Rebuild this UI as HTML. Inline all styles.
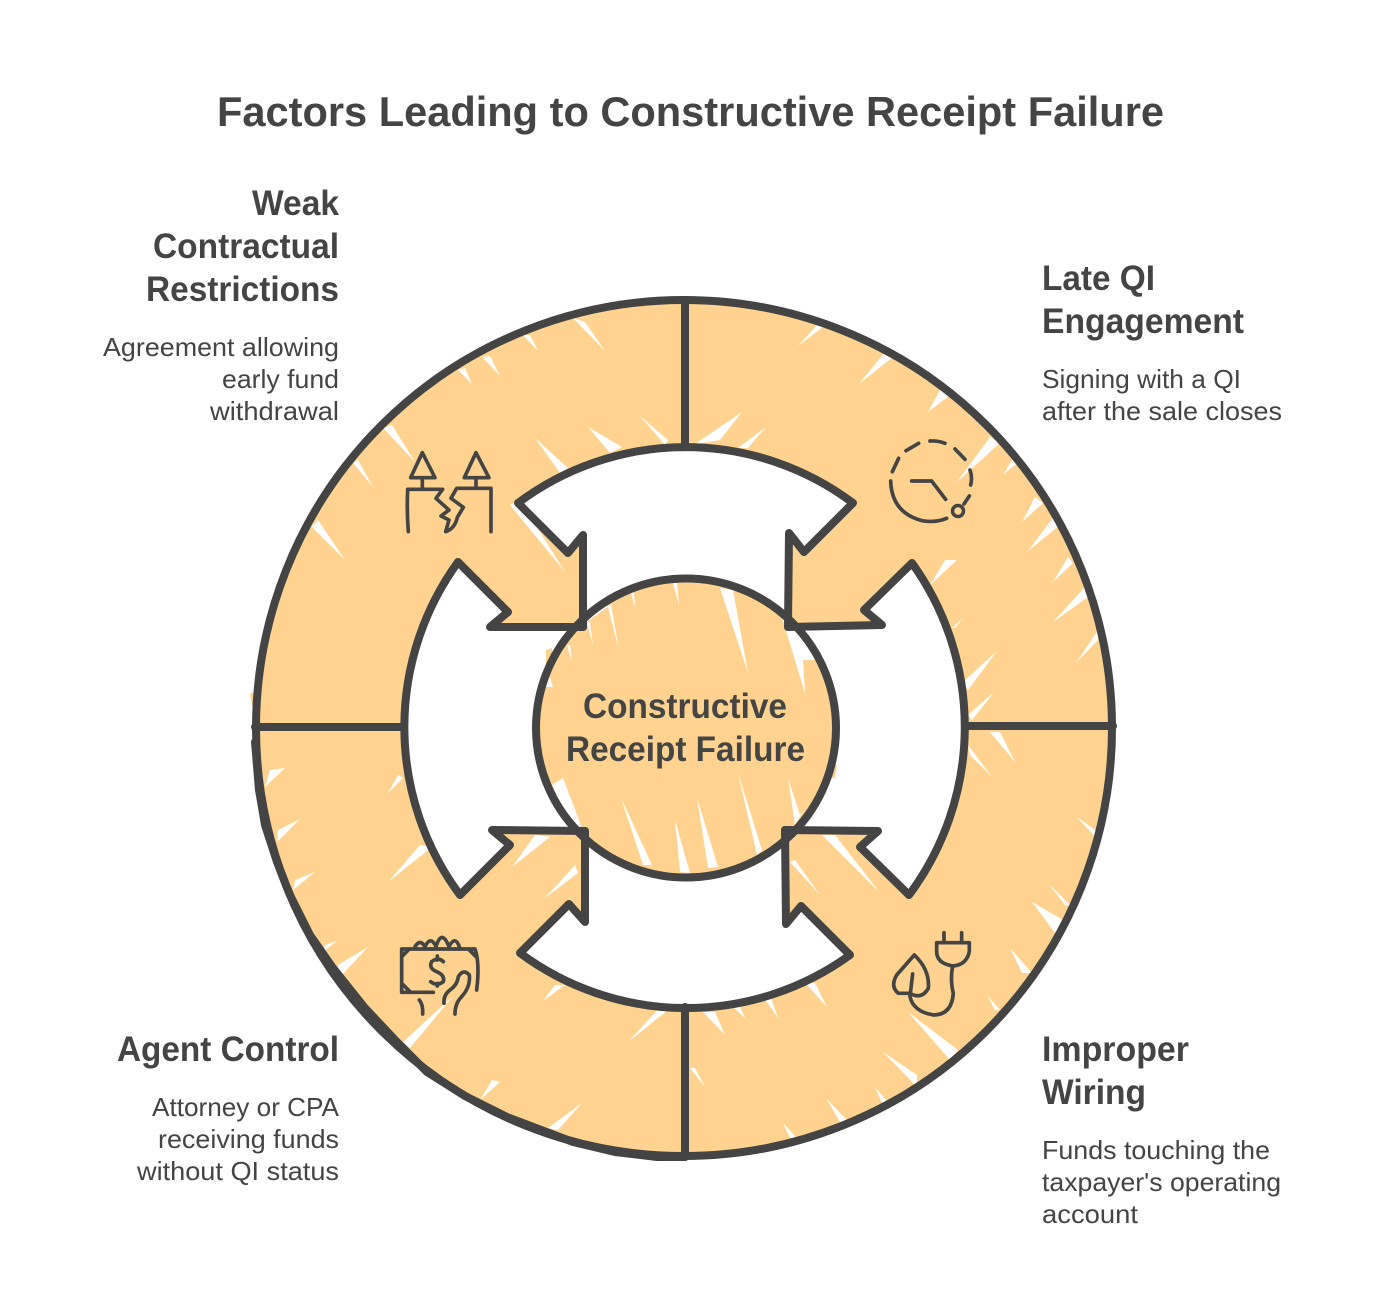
<!DOCTYPE html>
<html><head><meta charset="utf-8"><style>
html,body{margin:0;padding:0;background:#fff}
svg{display:block}
text{font-family:"Liberation Sans",sans-serif;fill:#444}
.t{font-size:42px;font-weight:700}
.h{font-size:35px;font-weight:700}
.b{font-size:26px}
.l{fill:none;stroke:#444;stroke-width:8;stroke-linejoin:round;stroke-linecap:round}
.i{fill:none;stroke:#444;stroke-width:9;stroke-linejoin:round;stroke-linecap:round}
</style></head><body>
<svg width="1381" height="1316" viewBox="0 0 1381 1316" xmlns="http://www.w3.org/2000/svg">
<rect width="1381" height="1316" fill="#fff"/>
<circle cx="684" cy="728" r="428" fill="#FFD28F"/>
<path fill="#FFD28F" d="M250 694L259 690L259 706L252 706ZM1108 700L1116 704L1112 716Z"/>
<path fill="#fff" d="M573 318L605 351L585 322ZM523 335L538 351L530 335ZM482 357L500 376L490 356ZM458 370L472 384L465 368ZM383 428L415 462L392 425ZM353 463L373 487L358 460ZM312 527L345 560L318 520ZM535 438L560 473L568 468ZM588 427L610 453L622 447ZM640 416L665 445L668 440ZM510 505L565 572L520 500Z
M823 327L798 346L817 325ZM893 357L859 384L885 352ZM949 396L928 412L940 390ZM1000 443L957 482L990 437ZM1017 463L1003 475L1012 460ZM1043 503L1022 522L1035 497ZM1060 525L1028 551L1055 515ZM1073 563L1053 582L1068 557ZM1088 597L1053 622L1085 587ZM1098 640L1076 663L1098 630ZM742 412L695 444L720 440ZM766 427L738 448L748 448ZM957 560L930 585L945 560ZM997 651L963 682L968 690ZM995 691L968 715L972 720ZM963 618L952 628L955 628Z
M285 768L265 787L270 770ZM300 819L277 842L278 830ZM315 872L293 890L295 880ZM368 947L340 977L338 965ZM337 941L323 952L325 945ZM453 996L403 1042L410 1048ZM432 847L388 882L420 845ZM403 778L388 793L398 775ZM565 985L543 1001L555 985ZM550 837L512 867L535 835ZM578 873L545 898L575 865ZM668 1010L628 1042L660 1007ZM500 1082L480 1100L492 1080ZM582 1103L548 1128L558 1130Z
M990 732L1015 762L1000 732ZM968 745L992 777L970 755ZM1077 817L1100 842L1098 832ZM1048 883L1072 907L1065 905ZM1032 902L1055 933L1063 920ZM1010 948L1032 973L1022 973ZM987 995L1000 1010L995 1010ZM908 1012L950 1060L958 1050ZM883 1052L917 1087L917 1075ZM875 1087L888 1102L882 1103ZM826 1098L847 1120L840 1122ZM783 1123L797 1138L790 1138ZM822 835L880 893L835 835ZM790 862L820 895L795 860ZM805 983L827 1007L815 983ZM762 995L778 1018L770 995ZM733 1007L745 1018L740 1007ZM703 1012L725 1035L715 1012ZM690 1068L705 1087L695 1068Z"/>
<path fill="#fff" d="M518 503A279 279 0 0 1 853 503L804 552L789 533L788 627L583 627L583 535L568 553Z"/>
<path fill="#fff" d="M583 627L490 627L508 612L458 562A281 281 0 0 0 460 895L510 845L492 830L585 831Z"/>
<path fill="#fff" d="M585 831L585 922L569 904L520 953A279 279 0 0 0 850 955L801 906L786 924L785 830Z"/>
<path fill="#fff" d="M788 627L882 625L864 610L912 563A281 281 0 0 1 909 895L860 847L878 831L785 830Z"/>
<circle cx="686" cy="728" r="148" fill="#FFD28F"/>
<path fill="#FFD28F" d="M546 650L552 648L552 665L546 668ZM832 765L837 765L835 778L830 778Z"/>
<path fill="#fff" d="M720 588L748 673L733 590ZM782 618L805 693L803 660L825 660L810 630ZM673 583L679 605L677 583ZM631 593L635 608L634 592ZM608 607L619 650L611 605L588 612L582 625ZM587 622L593 645L590 622ZM567 645L572 662L570 645ZM545 687L553 687L548 672ZM738 773L757 855L762 850ZM788 778L800 815L805 808L816 782L806 806L795 825ZM697 798L718 867L708 868ZM675 820L690 873L680 872ZM621 798L643 865L652 865ZM563 778L582 828L598 832L570 825L552 785Z"/>
<ellipse cx="686" cy="728" rx="150" ry="149.5" class="l"/>
<circle cx="684" cy="728" r="428" class="l"/>
<path class="l" d="M255 742L259 790L265 825L277 862L290 895L310 935L333 968L365 1008L397 1042L427 1072L465 1096L507 1117L573 1142L615 1152L657 1157L685 1157"/>
<path class="l" d="M685 300V447M255 727H404M966 726H1113M685 1007V1157"/>
<path class="l" d="M583 627V535L568 553L518 503A279 279 0 0 1 853 503L804 552L789 533L788 627"/>
<path class="l" d="M583 627H490L508 612L458 562A281 281 0 0 0 460 895L510 845L492 830L585 831"/>
<path class="l" d="M585 831V922L569 904L520 953A279 279 0 0 0 850 955L801 906L786 924L785 830"/>
<path class="l" d="M788 627L882 625L864 610L912 563A281 281 0 0 1 909 895L860 847L878 831L785 830"/>
<g transform="translate(380 430) scale(.3333)"><path class="i" style="stroke-width:11" d="M127 68L92 143H165ZM288 68L253 143H327ZM127 143V178M288 143V175M85 305Q80 240 83 178H188L168 205L207 240L183 258L207 270L197 305Q225 295 232 262L250 232L213 205L230 175H333V305"/></g>
<g transform="translate(780 420)"><path class="i" d="M378 92L416 70M450 63Q475 62 495 70M525 87L555 118M570 150Q578 172 572 195M568 228L552 252M500 295Q470 308 430 303Q335 280 332 183M337 155L356 115M395 183H455L497 238" transform="scale(.3333)" style="stroke-width:11"/><circle cx="178" cy="91" r="5.5" class="i" style="stroke-width:3.5"/></g>
<g transform="translate(380 820) scale(.3333)"><path class="i" style="stroke-width:11" d="M160 517H65V387H285Q300 430 290 510M65 410L88 387M265 387L288 410M65 490L90 515M105 380Q120 355 135 380M135 380Q152 345 168 380M168 380Q185 325 207 380M207 380Q225 345 238 380M190 425Q175 410 155 425Q145 445 170 455Q195 465 190 485Q170 500 152 485M172 408V420M172 490V498M192 550Q190 525 210 510Q232 495 235 470Q250 445 268 465Q272 500 245 530Q225 550 225 582M118 540Q130 555 128 582"/></g>
<g transform="translate(770 820) scale(.3333)"><path class="i" style="stroke-width:11" d="M522 338V368M575 338V368M500 368H598V395Q590 435 548 438Q500 430 500 395ZM548 438Q540 480 550 520Q545 585 490 585Q430 575 420 530L428 462M433 405Q480 450 475 505Q455 540 420 520H385Q360 500 380 465Z"/></g>
<text class="t" x="217" y="126" textLength="947" lengthAdjust="spacingAndGlyphs">Factors Leading to Constructive Receipt Failure</text>
<text class="h" x="252" y="215" textLength="87" lengthAdjust="spacingAndGlyphs">Weak</text>
<text class="h" x="153" y="258" textLength="186" lengthAdjust="spacingAndGlyphs">Contractual</text>
<text class="h" x="146" y="301" textLength="193" lengthAdjust="spacingAndGlyphs">Restrictions</text>
<text class="b" x="103" y="356" textLength="236" lengthAdjust="spacingAndGlyphs">Agreement allowing</text>
<text class="b" x="222" y="388" textLength="117" lengthAdjust="spacingAndGlyphs">early fund</text>
<text class="b" x="210" y="420" textLength="129" lengthAdjust="spacingAndGlyphs">withdrawal</text>
<text class="h" x="1042" y="290" textLength="113" lengthAdjust="spacingAndGlyphs">Late QI</text>
<text class="h" x="1042" y="333" textLength="202" lengthAdjust="spacingAndGlyphs">Engagement</text>
<text class="b" x="1042" y="388" textLength="199" lengthAdjust="spacingAndGlyphs">Signing with a QI</text>
<text class="b" x="1042" y="420" textLength="240" lengthAdjust="spacingAndGlyphs">after the sale closes</text>
<text class="h" x="117" y="1061" textLength="222" lengthAdjust="spacingAndGlyphs">Agent Control</text>
<text class="b" x="152" y="1116" textLength="187" lengthAdjust="spacingAndGlyphs">Attorney or CPA</text>
<text class="b" x="158" y="1148" textLength="181" lengthAdjust="spacingAndGlyphs">receiving funds</text>
<text class="b" x="137" y="1180" textLength="202" lengthAdjust="spacingAndGlyphs">without QI status</text>
<text class="h" x="1042" y="1061" textLength="147" lengthAdjust="spacingAndGlyphs">Improper</text>
<text class="h" x="1042" y="1104" textLength="104" lengthAdjust="spacingAndGlyphs">Wiring</text>
<text class="b" x="1042" y="1159" textLength="228" lengthAdjust="spacingAndGlyphs">Funds touching the</text>
<text class="b" x="1042" y="1191" textLength="239" lengthAdjust="spacingAndGlyphs">taxpayer's operating</text>
<text class="b" x="1042" y="1223" textLength="96" lengthAdjust="spacingAndGlyphs">account</text>
<text class="h" x="583" y="718" textLength="204" lengthAdjust="spacingAndGlyphs">Constructive</text>
<text class="h" x="566" y="761" textLength="239" lengthAdjust="spacingAndGlyphs">Receipt Failure</text>
</svg>
</body></html>
